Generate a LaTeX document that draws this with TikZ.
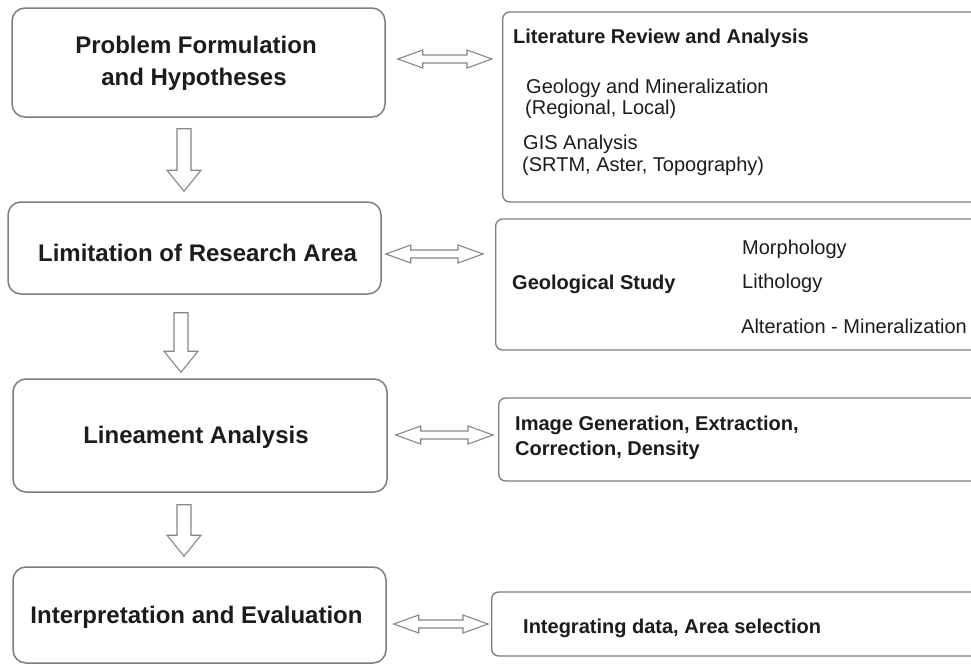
\documentclass[tikz,border=0pt]{standalone}
\usepackage{fontspec}
\setmainfont{Liberation Sans}
\usetikzlibrary{calc}
\definecolor{boxgray}{RGB}{125,125,125}
\definecolor{arrgray}{RGB}{135,135,135}
\definecolor{txt}{RGB}{28,28,28}
\tikzset{
  mainbox/.style={draw=boxgray, line width=1.5pt, rounded corners=13pt, rectangle, fill=white, inner sep=0pt},
  sidebox/.style={draw=boxgray, line width=1.3pt, rounded corners=7pt, rectangle, fill=white, inner sep=0pt, anchor=west},
  maintext/.style={font=\fontsize{24}{28}\selectfont\bfseries, text=txt, inner sep=0pt, anchor=base},
  sidehead/.style={font=\fontsize{20}{24}\selectfont\bfseries, text=txt, inner sep=0pt, anchor=base west},
  sidetext/.style={font=\fontsize{20}{24}\selectfont, text=txt, inner sep=0pt, anchor=base west},
  blockarr/.style={draw=arrgray, line width=1.1pt, fill=white, line join=miter},
}
\newcommand{\myHarrow}[2]{%
  \draw[blockarr] let \p1=(#1), \p2=(#2) in
    (\x1,\y1) -- (\x1+25pt,\y1+9pt) -- (\x1+25pt,\y1+4pt) -- (\x2-25pt,\y1+4pt)
    -- (\x2-25pt,\y1+9pt) -- (\x2,\y1) -- (\x2-25pt,\y1-9pt) -- (\x2-25pt,\y1-4pt)
    -- (\x1+25pt,\y1-4pt) -- (\x1+25pt,\y1-9pt) -- cycle;}
\newcommand{\myVarrow}[2]{%
  \draw[blockarr] let \p1=(#1), \p2=(#2) in
    (\x1-7pt,\y1) -- (\x1+7pt,\y1) -- (\x1+7pt,\y2+21pt) -- (\x1+17pt,\y2+21pt)
    -- (\x1,\y2) -- (\x1-17pt,\y2+21pt) -- (\x1-7pt,\y2+21pt) -- cycle;}
\begin{document}
\begin{tikzpicture}[x=1pt,y=-1pt]
\useasboundingbox (0,0) rectangle (971,664);
\fill[white] (0,0) rectangle (971,664);
\begin{scope}
\clip (0,0) rectangle (971,664);
% left column
\node[mainbox, minimum width=373pt, minimum height=109pt] (L1) at (198.5,62.5) {};
\node[mainbox, minimum width=373pt, minimum height=92pt]  (L2) at (194.5,248) {};
\node[mainbox, minimum width=374pt, minimum height=113pt] (L3) at (200,435.5) {};
\node[mainbox, minimum width=373pt, minimum height=96pt]  (L4) at (199.5,615) {};
% right column
\node[sidebox, minimum width=500pt, minimum height=190pt] (R1) at (502,107) {};
\node[sidebox, minimum width=500pt, minimum height=131pt] (R2) at (495,284.5) {};
\node[sidebox, minimum width=500pt, minimum height=83pt]  (R3) at (498,439.5) {};
\node[sidebox, minimum width=500pt, minimum height=64pt]  (R4) at (491,624) {};
% left texts
\node[maintext] (t1a) at (196,53) {Problem Formulation};
\node[maintext] (t1b) at (194,85) {and Hypotheses};
\node[maintext] (t2) at (197.5,261) {Limitation of Research Area};
\node[maintext] (t3) at (196,443) {Lineament Analysis};
\node[maintext] (t4) at (196.5,623) {Interpretation and Evaluation};
% right texts
\node[sidehead] (r1h) at (513,43) {Literature Review and Analysis};
\node[sidetext] (r1a) at (526,93) {Geology and Mineralization};
\node[sidetext] (r1b) at (525,114) {(Regional, Local)};
\node[sidetext] (r1c) at (523,149) {GIS Analysis};
\node[sidetext] (r1d) at (522,171) {(SRTM, Aster, Topography)};
\node[sidehead] (r2h) at (512,289) {Geological Study};
\node[sidetext] (r2a) at (742,254) {Morphology};
\node[sidetext] (r2b) at (742,288) {Lithology};
\node[sidetext] (r2c) at (741,333) {Alteration - Mineralization};
\node[sidehead] (r3a) at (515,430) {Image Generation, Extraction,};
\node[sidehead] (r3b) at (515,455) {Correction, Density};
\node[sidehead] (r4a) at (523,633) {Integrating data, Area selection};
\end{scope}
% horizontal double arrows
\coordinate (h1s) at ($(L1.east)+(12,-3.5)$);
\coordinate (h1e) at ($(h1s -| R1.west)+(-10,0)$);
\coordinate (h2s) at ($(L2.east)+(4,6)$);
\coordinate (h2e) at ($(h2s -| R2.west)+(-12,0)$);
\coordinate (h3s) at ($(L3.east)+(8,-0.5)$);
\coordinate (h3e) at ($(h3s -| R3.west)+(-5,0)$);
\coordinate (h4s) at ($(L4.east)+(7,9)$);
\coordinate (h4e) at ($(h4s -| R4.west)+(-3,0)$);
\myHarrow{h1s}{h1e}
\myHarrow{h2s}{h2e}
\myHarrow{h3s}{h3e}
\myHarrow{h4s}{h4e}
% vertical arrows
\coordinate (v1t) at ($(L1.south)+(-14.5,11)$);
\coordinate (v1b) at ($(v1t |- L2.north)+(0,-10)$);
\coordinate (v2t) at ($(L2.south)+(-13.5,18)$);
\coordinate (v2b) at ($(v2t |- L3.north)+(0,-6)$);
\coordinate (v3t) at ($(L3.south)+(-16,12)$);
\coordinate (v3b) at ($(v3t |- L4.north)+(0,-10)$);
\myVarrow{v1t}{v1b}
\myVarrow{v2t}{v2b}
\myVarrow{v3t}{v3b}
\end{tikzpicture}
\end{document}
